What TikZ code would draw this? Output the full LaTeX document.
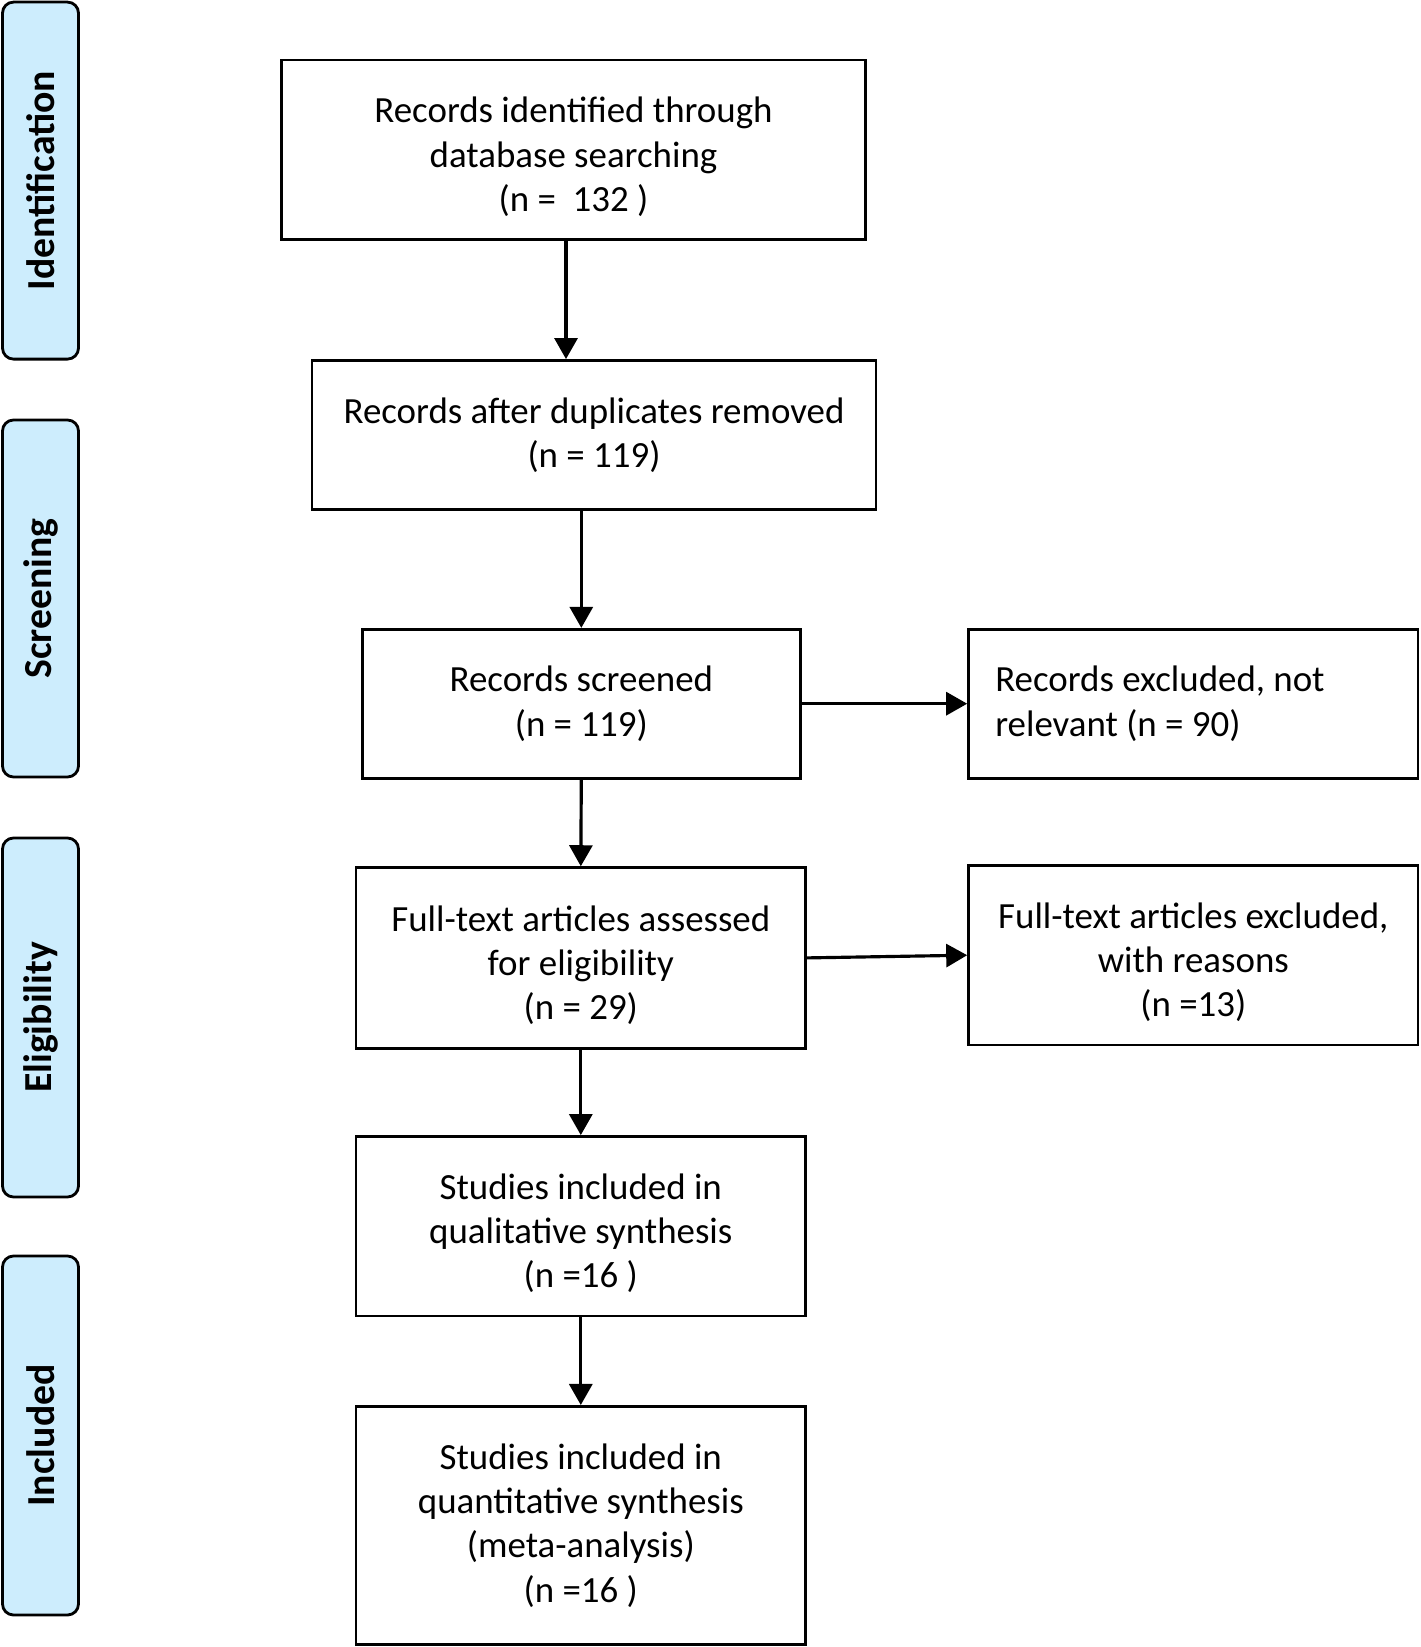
\documentclass[tikz,border=0pt]{standalone}
\usepackage{fontspec}
\setmainfont{Carlito}
\usetikzlibrary{arrows.meta}
\definecolor{phasefill}{HTML}{CDEDFD}
\newcommand{\topstrut}{\rule{0pt}{4mm}}
\tikzset{
  box/.style={draw, line width=0.75pt, align=center, inner sep=0pt,
    font=\fontsize{10.5}{12.6}\selectfont},
  phase/.style={draw, line width=0.8pt, fill=phasefill, rounded corners=1.1mm,
    rotate=90, minimum height=7.6mm, inner sep=0pt,
    font=\fontsize{11.3}{13}\selectfont\bfseries},
  arr/.style={line width=0.9pt, -{Triangle[length=2.1mm,width=2.3mm]}}
}
\begin{document}
\begin{tikzpicture}[x=1mm, y=-1mm]
      \useasboundingbox (0,0) rectangle (142,164.7);
      % phases
      \node[phase, minimum width=35.7mm] (id) at (4.05,18.06) {Identification};
      \node[phase, minimum width=35.7mm] (scr) at (4.05,59.85) {Screening};
      \node[phase, minimum width=35.9mm] (elig) at (4.05,101.75) {Eligibility};
      \node[phase, minimum width=35.9mm] (incl) at (4.05,143.55) {Included};
      % main boxes
      \node[box, minimum width=58.4mm, minimum height=17.96mm] (b1) at (57.35,14.97)
        {\topstrut Records identified through\\database searching\\(n =~ 132 )};
      \node[box, minimum width=56.4mm, minimum height=14.9mm] (b2) at (59.4,43.49)
        {Records after duplicates removed\\(n = 119)};
      \node[box, minimum width=43.8mm, minimum height=14.9mm] (b3) at (58.13,70.37)
        {Records screened\\(n = 119)};
      \node[box, minimum width=44.96mm, minimum height=18.07mm] (b4) at (58.08,95.79)
        {\topstrut Full-text articles assessed\\for eligibility\\(n = 29)};
      \node[box, minimum width=44.96mm, minimum height=17.96mm] (b5) at (58.08,122.62)
        {\topstrut Studies included in\\qualitative synthesis\\(n =16 )};
      \node[box, minimum width=44.96mm, minimum height=23.84mm] (b6) at (58.08,152.55)
        {Studies included in\\quantitative synthesis\\(meta-analysis)\\(n =16 )};
      % excluded boxes
      \node[box, minimum width=44.96mm, minimum height=14.9mm, text width=39.6mm,
        align=flush left] (x3) at (119.33,70.37)
        {Records excluded, not\\relevant (n = 90)};
      \node[box, minimum width=44.96mm, minimum height=17.96mm] (x4) at (119.33,95.52)
        {\topstrut Full-text articles excluded,\\with reasons\\(n =13)};
      % arrows
      \draw[arr] ([xshift=-0.75mm]b1.south) -- ([xshift=-0.75mm]b1.south |- b2.north);
      \draw[arr] (b3.north |- b2.south) -- (b3.north);
      \draw[arr] (b3.south) -- (b4.north);
      \draw[arr] (b4.south) -- (b5.north);
      \draw[arr] (b5.south) -- (b6.north);
      \draw[arr] (b3.east) -- (x3.west);
      \draw[arr] (b4.east) -- (x4.west);
    \end{tikzpicture}
\end{document}
